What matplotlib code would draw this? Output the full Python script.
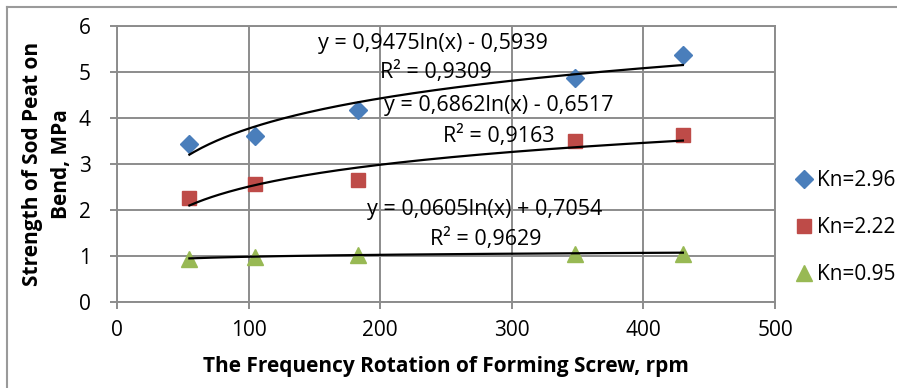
import numpy as np
import matplotlib.pyplot as plt
from matplotlib.lines import Line2D

plt.rcParams["font.family"] = ["Open Sans", "DejaVu Sans"]

# data
rpm = [55, 105, 183, 348, 430]
kn296 = [3.43, 3.60, 4.18, 4.86, 5.37]
kn222 = [2.27, 2.57, 2.66, 3.50, 3.64]
kn095 = [0.94, 0.97, 1.02, 1.04, 1.04]

# logarithmic trend lines (coefficients from the figure)
trend_a = [0.9475, 0.6862, 0.0605]
trend_b = [-0.5939, -0.6517, 0.7054]
trend_eq = ["y = 0,9475ln(x) - 0,5939", "y = 0,6862ln(x) - 0,6517", "y = 0,0605ln(x) + 0,7054"]
trend_r2 = ["R² = 0,9309", "R² = 0,9163", "R² = 0,9629"]
eq_pos = [(240, 5.63), (290, 4.28), (279, 2.01)]
r2_pos = [(242, 4.99), (290, 3.61), (280, 1.36)]

fig = plt.figure(figsize=(8.97, 3.88), dpi=100)
ax = fig.add_axes([117 / 897, 1 - 302 / 388, (775 - 117) / 897, (302 - 26) / 388])

series = [
    (kn296, "D", "#4a7ebb", "Kn=2.96", 9),
    (kn222, "s", "#be4b48", "Kn=2.22", 10),
    (kn095, "^", "#98b954", "Kn=0.95", 11),
]
for vals, mk, col, lab, ms in series:
    ax.plot(rpm, vals, linestyle="none", marker=mk, color=col, markersize=ms,
            label=lab, zorder=3)

xs = np.linspace(min(rpm), max(rpm), 200)
for a, b in zip(trend_a, trend_b):
    ax.plot(xs, a * np.log(xs) + b, color="black", linewidth=1.6, zorder=4)

for txt, (x, y) in zip(trend_eq, eq_pos):
    ax.text(x, y, txt, ha="center", va="center", fontsize=15.5, zorder=5)
for txt, (x, y) in zip(trend_r2, r2_pos):
    ax.text(x, y, txt, ha="center", va="center", fontsize=15.5, zorder=5)

ax.set_xlim(0, 500)
ax.set_ylim(0, 6)
ax.set_xticks(range(0, 501, 100))
ax.set_yticks(range(0, 7))
ax.grid(True, color="#8c8c8c", linewidth=1.4)
ax.set_axisbelow(True)
for s in ax.spines.values():
    s.set_color("#8c8c8c")
    s.set_linewidth(1.4)
ax.tick_params(colors="#8c8c8c", labelcolor="black", labelsize=15, length=5,
               width=1.4)
ax.tick_params(axis="x", pad=8)
ax.tick_params(axis="y", pad=14)

ax.set_xlabel("The Frequency Rotation of Forming Screw, rpm", fontsize=15,
              fontweight="bold", labelpad=11)
ax.set_ylabel("Strength of Sod Peat on\nBend, MPa", fontsize=15,
              fontweight="bold", labelpad=5, linespacing=1.45)

ax.legend(loc="center left", bbox_to_anchor=(1.0, 0.27), frameon=False,
          fontsize=15, handletextpad=0.1, labelspacing=1.25, handlelength=1.0)

# outer chart border (left and top edges only are visible)
grey = "#9a9a9a"
fig.add_artist(Line2D([7 / 897, 7 / 897], [0, 1 - 7 / 388], color=grey,
                      linewidth=1.5, transform=fig.transFigure))
fig.add_artist(Line2D([7 / 897, 1], [1 - 7 / 388, 1 - 7 / 388], color=grey,
                      linewidth=1.5, transform=fig.transFigure))

fig.savefig("out.png", dpi=100)
